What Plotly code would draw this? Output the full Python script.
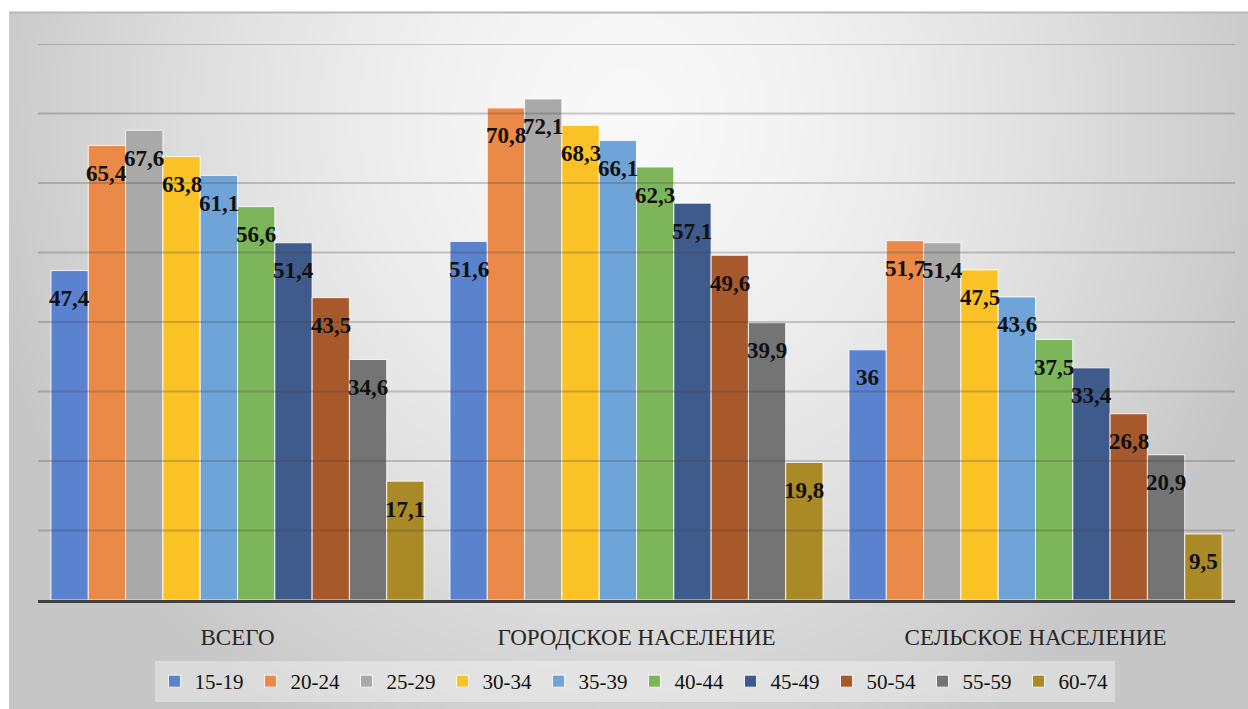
import base64
import struct
import zlib

import numpy as np
import plotly.graph_objects as go

# ---------------- data ----------------
categories = ["ВСЕГО", "ГОРОДСКОЕ НАСЕЛЕНИЕ", "СЕЛЬСКОЕ НАСЕЛЕНИЕ"]
age_groups = ["15-19", "20-24", "25-29", "30-34", "35-39",
              "40-44", "45-49", "50-54", "55-59", "60-74"]
v_15_19 = [47.4, 51.6, 36.0]
v_20_24 = [65.4, 70.8, 51.7]
v_25_29 = [67.6, 72.1, 51.4]
v_30_34 = [63.8, 68.3, 47.5]
v_35_39 = [61.1, 66.1, 43.6]
v_40_44 = [56.6, 62.3, 37.5]
v_45_49 = [51.4, 57.1, 33.4]
v_50_54 = [43.5, 49.6, 26.8]
v_55_59 = [34.6, 39.9, 20.9]
v_60_74 = [17.1, 19.8, 9.5]
series = [v_15_19, v_20_24, v_25_29, v_30_34, v_35_39,
          v_40_44, v_45_49, v_50_54, v_55_59, v_60_74]
grid_values = [10, 20, 30, 40, 50, 60, 70, 80]

# ---------------- style ----------------
colors = ["#5a82cf", "#eb8a48", "#a9a9a9", "#fbc226", "#6fa4d8",
          "#7db65a", "#3f5b8b", "#a8592c", "#747474", "#a98a27"]
W, H = 1248, 709
ML, MR, MT, MB = 38, 13, 44, 109
BARGAP = 0.065
SERIF = "Liberation Serif"


def fmt(v):
    s = f"{v:g}"
    return s.replace(".", ",")


# background radial gradient as a small PNG
def make_png(w, h):
    ys, xs = np.mgrid[0:h, 0:w]
    nx = xs / (w - 1)
    ny = ys / (h - 1)
    d = np.sqrt(((nx - 0.5) / 0.55) ** 2 + ((ny - 0.15) / 1.05) ** 2)
    val = 249 - 52 * d ** 1.5
    val = np.clip(val, 198, 250).astype(np.uint8)
    raw = b"".join(b"\x00" + val[r].tobytes() for r in range(h))

    def chunk(t, data):
        return (struct.pack(">I", len(data)) + t + data +
                struct.pack(">I", zlib.crc32(t + data) & 0xFFFFFFFF))

    ihdr = struct.pack(">IIBBBBB", w, h, 8, 0, 0, 0, 0)
    png = (b"\x89PNG\r\n\x1a\n" + chunk(b"IHDR", ihdr) +
           chunk(b"IDAT", zlib.compress(raw, 9)) + chunk(b"IEND", b""))
    return "data:image/png;base64," + base64.b64encode(png).decode()


pw = W - ML - MR
ph = H - MT - MB


def px_to_paper_x(px):
    return (px - ML) / pw


def px_to_paper_y(py):
    return (H - MB - py) / ph


fig = go.Figure()
for name, vals, col in zip(age_groups, series, colors):
    fig.add_trace(go.Bar(
        name=name, x=categories, y=vals,
        marker=dict(color=col, line=dict(color="rgba(255,255,255,0.85)", width=1)),
        hoverinfo="x+y+name",
    ))

# data labels
n = len(series)
bw = (1 - BARGAP) / n
annotations = []
for j, vals in enumerate(series):
    for i, v in enumerate(vals):
        annotations.append(dict(
            x=i + (j - (n - 1) / 2) * bw, y=v, xref="x", yref="y",
            text="<b>" + fmt(v) + "</b>", showarrow=False, yshift=-28,
            xanchor="center", yanchor="middle",
            font=dict(family=SERIF, size=23, color="#111111"),
        ))

shapes = []
for g in grid_values:
    shapes.append(dict(type="line", xref="paper", yref="y", x0=0, x1=1, y0=g, y1=g,
                       line=dict(color="rgba(60,60,60,0.25)", width=2), layer="above"))
# chart area top border
shapes.append(dict(type="line", xref="paper", yref="paper",
                   x0=px_to_paper_x(9), x1=px_to_paper_x(W), y0=px_to_paper_y(12.5), y1=px_to_paper_y(12.5),
                   line=dict(color="#b9b9b9", width=2), layer="below"))

fig.update_layout(
    width=W, height=H,
    margin=dict(l=ML, r=MR, t=MT, b=MB, autoexpand=False),
    paper_bgcolor="white", plot_bgcolor="rgba(0,0,0,0)",
    barmode="group", bargap=BARGAP, bargroupgap=0,
    images=[dict(source=make_png(248, 140), xref="paper", yref="paper",
                 x=px_to_paper_x(9), y=px_to_paper_y(12),
                 sizex=(W - 9) / pw, sizey=(H - 12) / ph,
                 xanchor="left", yanchor="top", sizing="stretch", layer="below")],
    xaxis=dict(showline=True, linecolor="#404040", linewidth=3, showgrid=False,
               ticks="", ticklabelstandoff=14, automargin=False,
               tickfont=dict(family=SERIF, size=23, color="#262626")),
    yaxis=dict(range=[0, 80], showgrid=False, zeroline=False, showticklabels=False,
               showline=False, automargin=False),
    legend=dict(orientation="h", xanchor="center", x=px_to_paper_x(634.5),
                yanchor="top", y=px_to_paper_y(661),
                bgcolor="rgba(255,255,255,0.35)",
                font=dict(family=SERIF, size=21, color="#111111"),
                itemwidth=30, entrywidth=51, entrywidthmode="pixels",
                itemclick=False, itemdoubleclick=False),
    annotations=annotations,
    shapes=shapes,
    font=dict(family=SERIF),
)

fig.write_html("out.html")
